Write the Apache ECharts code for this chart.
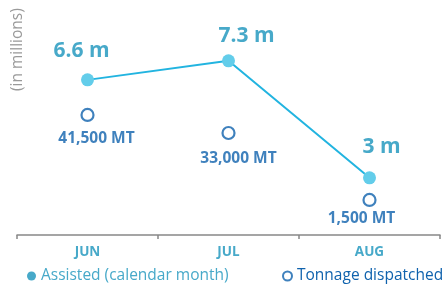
<!DOCTYPE html>
<html>
<head>
<meta charset="utf-8">
<script src="https://cdn.jsdelivr.net/npm/echarts@6/dist/echarts.min.js"></script>
<style>
  html, body { margin: 0; padding: 0; background: #fff; }
  #chart { width: 444px; height: 284px; }
</style>
</head>
<body>
<div id="chart"></div>
<script>
// ---------- data ----------
var months = ['JUN', 'JUL', 'AUG'];
var assisted = [6.6, 7.3, 3];          // millions
var tonnage = [41500, 33000, 1500];    // MT

// label nudges (style only)
var assistedOffsets = [[-6, -12], [18, -8], [12, -14]];
var tonnageOffsets = [[9, 9], [10, 10], [-8, 4]];

var lightBlue = '#47a9c9';
var lineBlue = '#22b4e0';
var dotBlue = '#63cdea';
var darkBlue = '#0f62ad';

var chart = echarts.init(document.getElementById('chart'));

var legendBase = {
  top: 263,
  itemWidth: 9,
  itemHeight: 9,
  textStyle: { fontFamily: 'Open Sans', fontSize: 15.5 }
};

var option = {
  animation: false,
  grid: { left: 17, right: 4, top: 20, bottom: 49 },
  graphic: [{
    type: 'text',
    x: 10,
    y: 91,
    rotation: Math.PI / 2,
    style: {
      text: '(in millions)',
      fill: '#9a9a9a',
      font: '15.5px "Open Sans"',
      textAlign: 'left',
      textVerticalAlign: 'top'
    }
  }],
  legend: [
    Object.assign({}, legendBase, {
      left: 22,
      data: [{ name: 'Assisted (calendar month)', icon: 'circle', itemStyle: { color: lightBlue }, textStyle: { color: lightBlue } }]
    }),
    Object.assign({}, legendBase, {
      left: 277,
      data: [{ name: 'Tonnage dispatched', icon: 'circle', itemStyle: { color: '#fff', borderColor: darkBlue, borderWidth: 2 }, textStyle: { color: darkBlue } }]
    })
  ],
  xAxis: {
    type: 'category',
    data: months,
    boundaryGap: true,
    axisLine: { onZero: false, lineStyle: { color: '#888', width: 1.5 } },
    axisTick: { show: true, inside: false, length: 4, lineStyle: { color: '#888', width: 1.5 } },
    axisLabel: { color: lightBlue, fontFamily: 'Open Sans', fontWeight: 'bold', fontSize: 13.5, margin: 10 }
  },
  yAxis: [
    { type: 'value', min: 0.9, max: 8.8, show: false },
    { type: 'value', min: -15000, max: 86200, show: false }
  ],
  series: [
    {
      name: 'Assisted (calendar month)',
      type: 'line',
      yAxisIndex: 0,
      symbol: 'circle',
      symbolSize: 13,
      itemStyle: { color: dotBlue },
      lineStyle: { color: lineBlue, width: 2 },
      z: 3,
      data: assisted.map(function (v, i) {
        return {
          value: v,
          label: { offset: assistedOffsets[i] }
        };
      }),
      label: {
        show: true,
        position: 'top',
        distance: 0,
        formatter: function (p) { return p.value + ' m'; },
        color: lightBlue,
        fontFamily: 'Open Sans',
        fontWeight: 'bold',
        fontSize: 21
      }
    },
    {
      name: 'Tonnage dispatched',
      type: 'scatter',
      yAxisIndex: 1,
      symbol: 'circle',
      symbolSize: 12,
      itemStyle: { color: '#fff', borderColor: darkBlue, borderWidth: 2.2 },
      data: tonnage.map(function (v, i) {
        return {
          value: v,
          label: { offset: tonnageOffsets[i] }
        };
      }),
      label: {
        show: true,
        position: 'bottom',
        distance: 0,
        formatter: function (p) { return p.value.toLocaleString('en-US') + ' MT'; },
        color: darkBlue,
        fontFamily: 'Open Sans',
        fontWeight: 'bold',
        fontSize: 15.5
      }
    }
  ]
};

chart.setOption(option);
</script>
</body>
</html>
